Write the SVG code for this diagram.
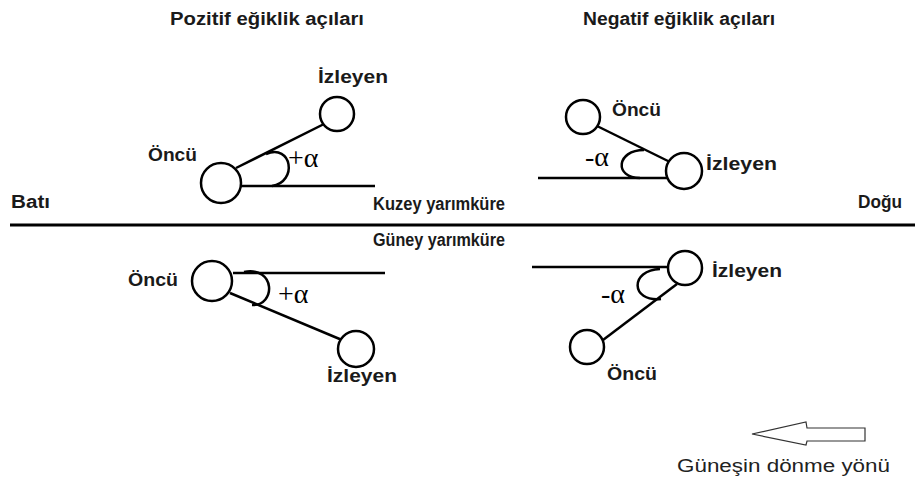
<svg xmlns="http://www.w3.org/2000/svg" width="915" height="486" viewBox="0 0 915 486">
<style>
.t{font-family:"Liberation Sans",Arial,sans-serif;font-weight:bold;font-size:18px;fill:#1a1a1a}
.c{fill:#fff;stroke:#000;stroke-width:2.5}
.l{stroke:#000;stroke-width:2.5;fill:none}
.a{font-family:"Liberation Serif","Times New Roman",serif;font-size:28px;fill:#000}
.n{font-family:"Liberation Sans",Arial,sans-serif;font-size:18px;fill:#222}
</style>
<rect width="915" height="486" fill="#fff"/>
<text class="t" x="170" y="25" textLength="194" lengthAdjust="spacingAndGlyphs">Pozitif eğiklik açıları</text>
<text class="t" x="583" y="25" textLength="192" lengthAdjust="spacingAndGlyphs">Negatif eğiklik açıları</text>
<text class="t" x="11" y="208" textLength="39" lengthAdjust="spacingAndGlyphs">Batı</text>
<text class="t" x="858" y="208" textLength="44" lengthAdjust="spacingAndGlyphs">Doğu</text>
<text class="t" x="373" y="210" textLength="132" lengthAdjust="spacingAndGlyphs">Kuzey yarımküre</text>
<text class="t" x="373" y="246" textLength="132" lengthAdjust="spacingAndGlyphs">Güney yarımküre</text>
<g id="connectors">
<line class="l" x1="10" y1="225" x2="915" y2="225" style="stroke-width:3"/>
<line class="l" x1="236" y1="168" x2="326" y2="123"/>
<line class="l" x1="240" y1="186" x2="375" y2="186"/>
<path class="l" d="M 266,154 C 292,143 298,182 272,186"/>
<line class="l" x1="597" y1="126" x2="670" y2="162"/>
<line class="l" x1="538" y1="178" x2="668" y2="178"/>
<path class="l" d="M 644,150 C 616,150 614,178 640,178"/>
<line class="l" x1="230" y1="293" x2="342" y2="340"/>
<line class="l" x1="233" y1="273" x2="385" y2="273"/>
<path class="l" d="M 244,272 C 276,266 276,306 252,305"/>
<line class="l" x1="603" y1="340" x2="677" y2="284"/>
<line class="l" x1="532" y1="267" x2="668" y2="267"/>
<path class="l" d="M 660,269 C 630,270 630,302 661,299"/>
</g>
<g id="tl-oncu"><circle class="c" cx="221" cy="183" r="20"/><text class="t" x="148" y="161" textLength="49" lengthAdjust="spacingAndGlyphs">Öncü</text></g>
<g id="tl-izleyen"><circle class="c" cx="337" cy="114" r="17"/><text class="t" x="318" y="83" textLength="70" lengthAdjust="spacingAndGlyphs">İzleyen</text></g>
<g id="tl-angle"><text class="a" x="288" y="167">+α</text></g>
<g id="tr-oncu"><circle class="c" cx="583" cy="117" r="17"/><text class="t" x="612" y="116" textLength="49" lengthAdjust="spacingAndGlyphs">Öncü</text></g>
<g id="tr-izleyen"><circle class="c" cx="684" cy="171" r="18"/><text class="t" x="706" y="170" textLength="71" lengthAdjust="spacingAndGlyphs">İzleyen</text></g>
<g id="tr-angle"><text class="a" x="585" y="166">-α</text></g>
<g id="bl-oncu"><circle class="c" cx="212" cy="281" r="20"/><text class="t" x="128" y="286" textLength="50" lengthAdjust="spacingAndGlyphs">Öncü</text></g>
<g id="bl-izleyen"><circle class="c" cx="356" cy="349" r="18"/><text class="t" x="327" y="382" textLength="70" lengthAdjust="spacingAndGlyphs">İzleyen</text></g>
<g id="bl-angle"><text class="a" x="278" y="303">+α</text></g>
<g id="br-izleyen"><circle class="c" cx="685" cy="268" r="17"/><text class="t" x="712" y="277" textLength="70" lengthAdjust="spacingAndGlyphs">İzleyen</text></g>
<g id="br-oncu"><circle class="c" cx="587" cy="347" r="17"/><text class="t" x="607" y="380" textLength="50" lengthAdjust="spacingAndGlyphs">Öncü</text></g>
<g id="br-angle"><text class="a" x="601" y="303">-α</text></g>
<g id="direction">
<path d="M 865,428 L 807,428 L 806,422 L 752,434 L 806,445 L 807,441 L 865,441 Z" fill="#fff" stroke="#333" stroke-width="1.2"/>
<text class="n" x="677" y="472" textLength="213" lengthAdjust="spacingAndGlyphs">Güneşin dönme yönü</text>
</g>
</svg>
